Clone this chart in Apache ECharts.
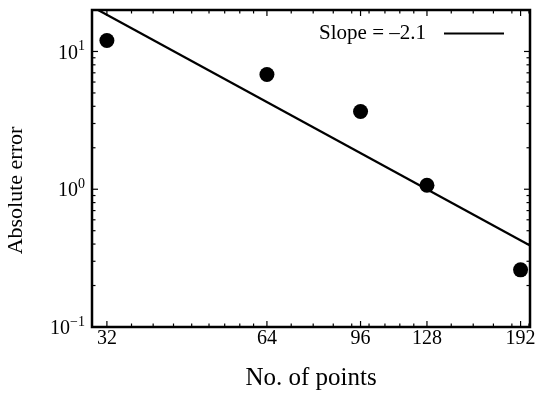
<!DOCTYPE html>
<html>
<head>
<meta charset="utf-8">
<script src="https://cdn.jsdelivr.net/npm/echarts@6/dist/echarts.min.js"></script>
<style>
html,body{margin:0;padding:0;background:#fff;}
#c{width:537px;height:393px;}
</style>
</head>
<body>
<div id="c"></div>
<script>
// ---- data ----
const pointsX = [32, 64, 96, 128, 192];
const errorY = [12.0, 6.8, 3.67, 1.07, 0.26];
const fitX = [30.8, 200];
const fitY = [20, 0.39];
const fitLabel = 'Slope = –2.1';
const xMajorTicks = [32, 64, 96, 128, 192];
const xMinorTicks = [35.6, 39.1, 42.7, 46.2, 49.8, 53.3, 56.9, 60.4,
  71.1, 78.2, 85.3, 92.4, 99.6, 106.7, 113.8, 120.9,
  142.2, 156.4, 170.7, 184.9, 199.1];
const yMajorTicks = [0.1, 1, 10];
const yMinorTicks = [0.2, 0.3, 0.4, 0.5, 0.6, 0.7, 0.8, 0.9, 2, 3, 4, 5, 6, 7, 8, 9];
const X_MIN = 30, X_MAX = 200, Y_MIN = 0.1, Y_MAX = 20;
const xTitle = 'No. of points';
const yTitle = 'Absolute error';

// ---- chart ----
const FONT = 'Liberation Serif';
const chart = echarts.init(document.getElementById('c'), null, {renderer: 'canvas'});

function xTickSeries(vals, len) {
  return {
    type: 'custom', silent: true, z: 5,
    data: vals.map(v => [v, 1]),
    renderItem: function (params, api) {
      const v = api.value(0);
      const b = api.coord([v, Y_MIN]);
      const t = api.coord([v, Y_MAX]);
      return {type: 'group', children: [
        {type: 'line', shape: {x1: b[0], y1: b[1], x2: b[0], y2: b[1] - len}, style: {stroke: '#000', lineWidth: 1.2}},
        {type: 'line', shape: {x1: t[0], y1: t[1], x2: t[0], y2: t[1] + len}, style: {stroke: '#000', lineWidth: 1.2}}
      ]};
    }
  };
}
function yTickSeries(vals, len) {
  return {
    type: 'custom', silent: true, z: 5,
    data: vals.map(v => [X_MIN + 1, v]),
    renderItem: function (params, api) {
      const v = api.value(1);
      const l = api.coord([X_MIN, v]);
      const r = api.coord([X_MAX, v]);
      return {type: 'group', children: [
        {type: 'line', shape: {x1: l[0], y1: l[1], x2: l[0] + len, y2: l[1]}, style: {stroke: '#000', lineWidth: 1.2}},
        {type: 'line', shape: {x1: r[0], y1: r[1], x2: r[0] - len, y2: r[1]}, style: {stroke: '#000', lineWidth: 1.2}}
      ]};
    }
  };
}

const option = {
  animation: false,
  backgroundColor: '#fff',
  grid: {left: 92, right: 7, top: 10, bottom: 66, show: true, borderColor: '#000', borderWidth: 2.5,
    backgroundColor: 'transparent', containLabel: false, outerBoundsMode: 'none'},
  legend: {
    data: [{name: fitLabel, icon: 'rect'}], right: 28, top: 18, align: 'right',
    itemWidth: 60, itemHeight: 2.2,
    itemStyle: {color: '#000', borderWidth: 0},
    textStyle: {fontFamily: FONT, fontSize: 21, color: '#000', padding: [0, 13, 0, 0]}
  },
  xAxis: {
    type: 'log', logBase: 2, min: X_MIN, max: X_MAX,
    axisLine: {show: false}, axisTick: {show: false}, splitLine: {show: false},
    axisLabel: {customValues: xMajorTicks, fontFamily: FONT, fontSize: 20, color: '#000', margin: 2,
      formatter: v => String(Math.round(v))},
    name: xTitle, nameLocation: 'middle', nameGap: 39,
    nameTextStyle: {fontFamily: FONT, fontSize: 25, color: '#000'}
  },
  yAxis: {
    type: 'log', logBase: 10, min: Y_MIN, max: Y_MAX,
    axisLine: {show: false}, axisTick: {show: false}, splitLine: {show: false},
    axisLabel: {
      margin: 7, color: '#000', fontFamily: FONT,
      formatter: function (v) {
        const lg = Math.log10(v), e = Math.round(lg);
        if (Math.abs(lg - e) > 1e-6) return '';
        return '{b|10}{s|' + (e < 0 ? '−' + (-e) : e) + '}';
      },
      rich: {
        b: {fontFamily: FONT, fontSize: 20, color: '#000', lineHeight: 24, verticalAlign: 'bottom'},
        s: {fontFamily: FONT, fontSize: 14, color: '#000', lineHeight: 14, verticalAlign: 'top'}
      }
    },
    name: yTitle, nameLocation: 'middle', nameGap: 65,
    nameTextStyle: {fontFamily: FONT, fontSize: 22, color: '#000', padding: [0, 44, 0, 0]}
  },
  series: [
    xTickSeries(xMajorTicks, 6),
    xTickSeries(xMinorTicks, 3.5),
    yTickSeries(yMajorTicks, 6),
    yTickSeries(yMinorTicks, 3.5),
    {
      name: fitLabel, type: 'line', symbol: 'none', clip: true, z: 3,
      data: fitX.map((x, i) => [x, fitY[i]]),
      lineStyle: {color: '#000', width: 2.2}, itemStyle: {color: '#000'}
    },
    {
      name: 'points', type: 'scatter', symbol: 'circle', symbolSize: 15, z: 4,
      data: pointsX.map((x, i) => [x, errorY[i]]),
      itemStyle: {color: '#000', opacity: 1}
    }
  ]
};
chart.setOption(option);
</script>
</body>
</html>
